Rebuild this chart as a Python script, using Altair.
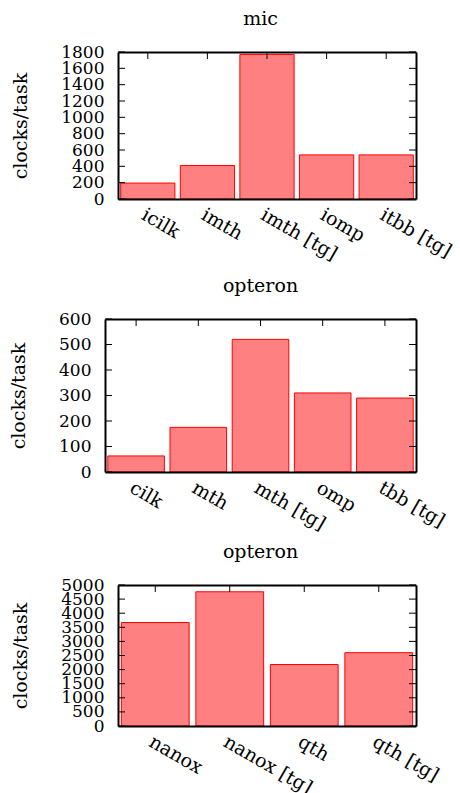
import altair as alt
import pandas as pd

FONT = "DejaVu Serif"

# ---- data ----
mic_cats = ["icilk", "imth", "imth [tg]", "iomp", "itbb [tg]"]
mic_vals = [195, 410, 1770, 540, 540]
mic_ticks = [0, 200, 400, 600, 800, 1000, 1200, 1400, 1600, 1800]

opt1_cats = ["cilk", "mth", "mth [tg]", "omp", "tbb [tg]"]
opt1_vals = [63, 175, 520, 310, 290]
opt1_ticks = [0, 100, 200, 300, 400, 500, 600]

opt2_cats = ["nanox", "nanox [tg]", "qth", "qth [tg]"]
opt2_vals = [3670, 4760, 2180, 2600]
opt2_ticks = [0, 500, 1000, 1500, 2000, 2500, 3000, 3500, 4000, 4500, 5000]

titles = ["mic", "opteron", "opteron"]
ytitle = "clocks/task"

FULL_W = 311  # common plot-group width; panels may start further right


def panel(title, cats, vals, ticks, shift, height, tick_font=17):
    df = pd.DataFrame({"cat": cats, "val": vals})
    tdf = pd.DataFrame({"val": ticks})
    xsc = alt.Scale(domain=cats, paddingInner=0.09, paddingOuter=0.045,
                    range=[shift, FULL_W])
    ysc = alt.Scale(domain=[ticks[0], ticks[-1]], nice=False, zero=True)
    xax = alt.Axis(title=None, labelAngle=30, labelAlign="left", labelBaseline="top",
                   labelPadding=6, ticks=False, domain=True, domainColor="black",
                   domainWidth=2, labelFontSize=19, labelFont=FONT, labelColor="black",
                   labelOverlap=False, labelLimit=0, grid=False, zindex=1)
    xax_top = alt.Axis(title=None, orient="top", labels=False, ticks=False, domain=True,
                       domainColor="black", domainWidth=2, grid=False, zindex=1)
    yax = alt.Axis(title=ytitle, values=ticks, format="d", ticks=False, domain=True,
                   domainColor="black", domainWidth=2, labelPadding=14,
                   labelFontSize=tick_font, labelFont=FONT, labelColor="black",
                   labelOverlap=False, titlePadding=30, titleFont=FONT,
                   titleFontSize=19, titleFontWeight="normal", titleColor="black",
                   grid=False, zindex=1, offset=-shift)
    yax_right = alt.Axis(title=None, orient="right", labels=False, ticks=False,
                         domain=True, domainColor="black", domainWidth=2, grid=False,
                         zindex=1)
    bars = alt.Chart(df).mark_bar(fill="#ff8080", stroke="#ff0000", strokeWidth=1,
                                  opacity=1).encode(
        x=alt.X("cat:N", scale=xsc, axis=xax, sort=cats),
        y=alt.Y("val:Q", scale=ysc, axis=yax),
    )
    left = alt.Chart(tdf).mark_rule(color="black", strokeWidth=1).encode(
        y=alt.Y("val:Q", scale=ysc, axis=None),
        x=alt.value(shift), x2=alt.value(shift + 7),
    )
    right = alt.Chart(tdf).mark_rule(color="black", strokeWidth=1).encode(
        y=alt.Y("val:Q", scale=ysc, axis=yax_right),
        x=alt.value(FULL_W - 7), x2=alt.value(FULL_W),
    )
    top = alt.Chart(df).mark_rule(color="black", strokeWidth=1).encode(
        x=alt.X("cat:N", scale=xsc, axis=xax_top, sort=cats),
        y=alt.value(0), y2=alt.value(7),
    )
    return alt.layer(bars, left, right, top).resolve_axis(
        x="independent", y="independent"
    ).properties(
        width=FULL_W, height=height,
        title=alt.TitleParams(text=title, font=FONT, fontSize=19, fontWeight="normal",
                              color="black", anchor="middle", frame="group", offset=14),
    )


p1 = panel(titles[0], mic_cats, mic_vals, mic_ticks, 13, 147)
p2 = panel(titles[1], opt1_cats, opt1_vals, opt1_ticks, 0, 153)
p3 = panel(titles[2], opt2_cats, opt2_vals, opt2_ticks, 13, 141)

top_two = alt.vconcat(p1, p2, spacing=11)
chart = alt.vconcat(top_two, p3, spacing=7).configure(
    style={"guide-title": {"font": FONT, "fontWeight": "normal"},
           "guide-label": {"font": FONT}}
).configure_axis(
    labelFont=FONT, titleFont=FONT, labelColor="black", titleColor="black",
    titleFontWeight="normal", grid=False,
).configure_view(stroke="transparent").properties(
    padding={"left": 9, "top": 9, "right": 0, "bottom": 0}, background="white"
)

chart.save("out.html", embed_options={"renderer": "svg", "actions": False})
